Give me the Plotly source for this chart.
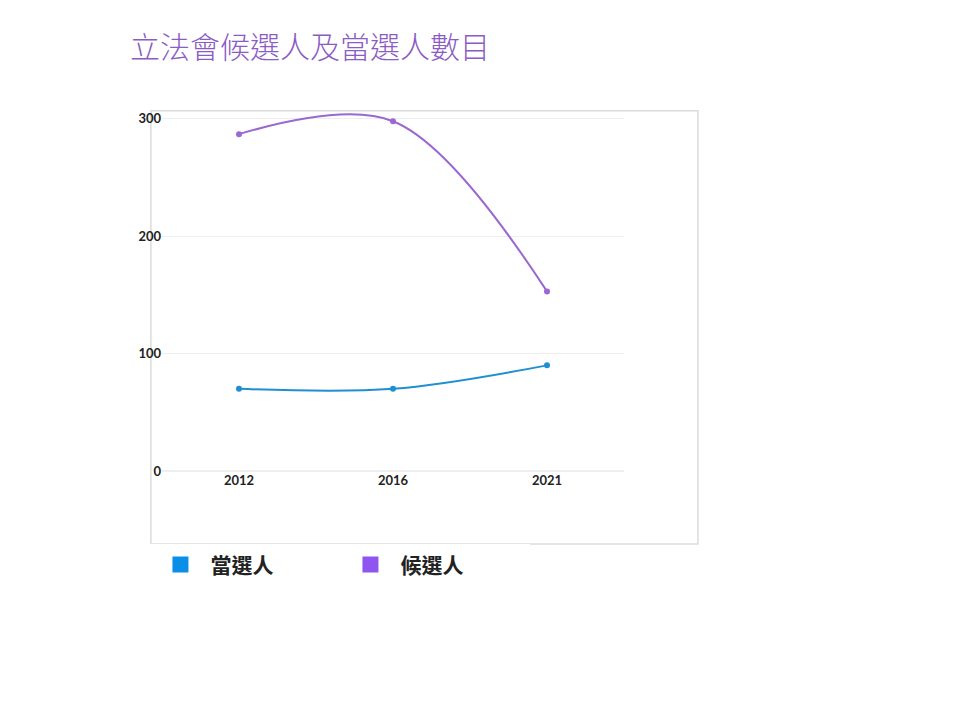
import plotly.graph_objects as go

years = ["2012", "2016", "2021"]
elected = [70, 70, 90]
candidates = [287, 298, 153]

fig = go.Figure()
fig.add_trace(go.Scatter(x=years, y=elected, mode="lines+markers", line=dict(shape="spline", color="#1f8fd2", width=2),
                         marker=dict(size=6, color="#1f8fd2"), showlegend=False))
fig.add_trace(go.Scatter(x=years, y=candidates, mode="lines+markers", line=dict(shape="spline", color="#9a68d0", width=2),
                         marker=dict(size=6, color="#9a68d0"), showlegend=False))
# legend entries
fig.add_trace(go.Scatter(x=[None], y=[None], mode="markers", name="當選人",
                         marker=dict(symbol="square", size=24, color="#0a8fe8")))
fig.add_trace(go.Scatter(x=[None], y=[None], mode="markers", name="候選人",
                         marker=dict(symbol="square", size=24, color="#8e55f0")))

fig.add_shape(type="rect", xref="paper", yref="paper", x0=-0.024, x1=1.160, y0=-0.204, y1=1.006,
              line=dict(color="#dcdcdc", width=1.5), fillcolor="rgba(0,0,0,0)", layer="below")

fig.update_layout(
    width=960, height=720, plot_bgcolor="rgba(0,0,0,0)", paper_bgcolor="white",
    margin=dict(l=154, r=344, t=105, b=257),
    title=dict(text="立法會候選人及當選人數目", x=122/960, xanchor="left", y=1-39/720, yanchor="middle",
               font=dict(family="Noto Sans CJK TC", size=30, color="#8a5cc4", weight=300)),
    xaxis=dict(type="category", range=[-0.5, 2.5], showgrid=False, showline=False, ticks="",
               tickfont=dict(family="Lato", size=13, color="#222", weight="bold")),
    yaxis=dict(range=[0, 305], tickvals=[0, 100, 200, 300], gridcolor="#eeeeee", zeroline=True,
               zerolinecolor="#eeeeee", showline=False, ticksuffix="  ",
               tickfont=dict(family="Lato", size=13, color="#222", weight="bold")),
    legend=dict(orientation="h", x=-0.025, y=-0.205, xanchor="left", yanchor="top",
                font=dict(family="Noto Sans CJK TC", size=21, color="#222", weight="bold"),
                itemwidth=50, entrywidth=125),
)
fig.write_html("out.html")
